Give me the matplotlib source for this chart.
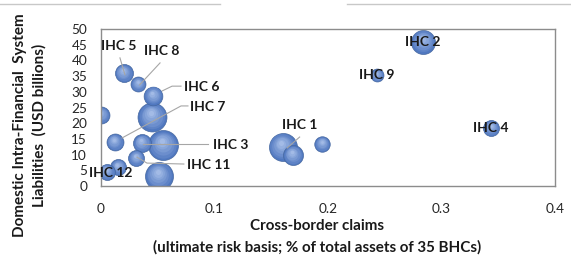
import numpy as np
import matplotlib.pyplot as plt
import matplotlib.transforms as mtransforms
from matplotlib.lines import Line2D
from matplotlib.colors import to_rgb

plt.rcParams['font.family'] = ['Lato', 'DejaVu Sans']

# bubbles
cross_border = [0.160, 0.169, 0.195, 0.284, 0.243, 0.344, 0.020, 0.033, 0.046,
                0.045, 0.000, 0.012, 0.036, 0.055, 0.031, 0.051, 0.005, 0.015]
intra_fin = [12.4, 9.9, 13.4, 45.9, 35.3, 18.5, 36.0, 32.5, 28.7,
             22.0, 22.6, 14.0, 13.7, 13.0, 8.9, 3.2, 4.5, 6.0]
bubble_size = [196, 100, 60, 144, 42, 64, 81, 56, 88,
               210, 72, 72, 81, 225, 64, 196, 64, 64]

# labels: name, text position, alignment, leader line points
labels = ['IHC 1', 'IHC 2', 'IHC 3', 'IHC 4', 'IHC 5', 'IHC 6',
          'IHC 7', 'IHC 8', 'IHC 9', 'IHC 11', 'IHC 12']
label_x = [0.175, 0.2837, 0.0987, 0.3436, 0.0159, 0.0731, 0.0784, 0.0537, 0.2432, 0.0758, 0.0088]
label_y = [19.4, 45.9, 13.1, 18.5, 44.6, 31.5, 25.2, 43.0, 35.4, 6.7, 4.1]
label_ha = ['center', 'center', 'left', 'center', 'center', 'left',
            'left', 'center', 'center', 'left', 'center']
leaders = {
    'IHC 1': ([0.175, 0.164], [15.6, 12.1]),
    'IHC 3': ([0.037, 0.094], [13.4, 13.4]),
    'IHC 5': ([0.0167, 0.0211], [40.8, 35.4]),
    'IHC 6': ([0.054, 0.0626, 0.0705], [30.3, 31.8, 31.8]),
    'IHC 7': ([0.0766, 0.0705, 0.0185], [25.5, 25.5, 15.3]),
    'IHC 8': ([0.052, 0.034], [39.2, 32.2]),
    'IHC 11': ([0.0317, 0.0405, 0.073], [9.2, 7.3, 7.0]),
}

fig = plt.figure(figsize=(5.71, 2.56), dpi=100)
ax = fig.add_axes([0.1769, 0.2734, 0.9720 - 0.1769, 0.8867 - 0.2734])

base = np.array(to_rgb('#5078c0'))
light = np.array(to_rgb('#b8ccf0'))

# fake the shaded 3d bubbles with stacked circles
order = np.argsort(bubble_size)[::-1]
for i in order:
    s = 2.07 * bubble_size[i]
    r_pt = np.sqrt(s) / 2
    ax.scatter(cross_border[i], intra_fin[i], s=s, color=base,
               edgecolor='#45679f', linewidth=0.5, zorder=2)
    for k, f in enumerate([0.88, 0.74, 0.6, 0.46, 0.32, 0.18]):
        t = (k + 1) / 6.0
        col = base + (light - base) * t * 0.8
        dx = -0.12 * r_pt * (1 - f)
        dy = 0.35 * r_pt * (1 - f)
        tr = ax.transData + mtransforms.ScaledTranslation(dx / 72, dy / 72, fig.dpi_scale_trans)
        ax.scatter(cross_border[i], intra_fin[i], s=s * f * f, color=col,
                   linewidth=0, transform=tr, zorder=2)

for name, (lx, ly) in leaders.items():
    ax.plot(lx, ly, color='#a6a6a6', lw=0.8, zorder=3)

for name, tx, ty, ha in zip(labels, label_x, label_y, label_ha):
    ax.text(tx, ty, name, ha=ha, va='center', fontsize=10, fontweight='bold',
            color='#1a1a1a', zorder=4, clip_on=False)

ax.set_xlim(0, 0.4)
ax.set_ylim(0, 50)
ax.set_xticks([0, 0.1, 0.2, 0.3, 0.4])
ax.set_xticklabels(['0', '0.1', '0.2', '0.3', '0.4'])
ax.set_yticks(range(0, 51, 5))
ax.tick_params(length=0, labelsize=9.8, labelcolor='#262626')
ax.tick_params(axis='x', pad=12)
ax.tick_params(axis='y', pad=10)
for sp in ax.spines.values():
    sp.set_color('#8c8c8c')
    sp.set_linewidth(1)

fig.text(30 / 571, 0.51, 'Domestic Intra-Financial  System\nLiabilities  (USD billions)',
         rotation=90, ha='center', va='center', fontsize=11, fontweight='bold',
         linespacing=1.4, color='#1a1a1a')
fig.text(317 / 571, 1 - 226 / 256, 'Cross-border claims', ha='center', va='center',
         fontsize=10.9, fontweight='bold', color='#1a1a1a')
fig.text(317 / 571, 1 - 247 / 256, '(ultimate risk basis; % of total assets of 35 BHCs)',
         ha='center', va='center', fontsize=10.9, fontweight='bold', color='#1a1a1a')

# thin gray rules at the very top
fig.add_artist(Line2D([0, 220 / 571], [1 - 4 / 256] * 2, color='#c8c8c8', lw=1))
fig.add_artist(Line2D([347 / 571, 1], [1 - 4 / 256] * 2, color='#c8c8c8', lw=1))

fig.savefig('out.png', dpi=100)
